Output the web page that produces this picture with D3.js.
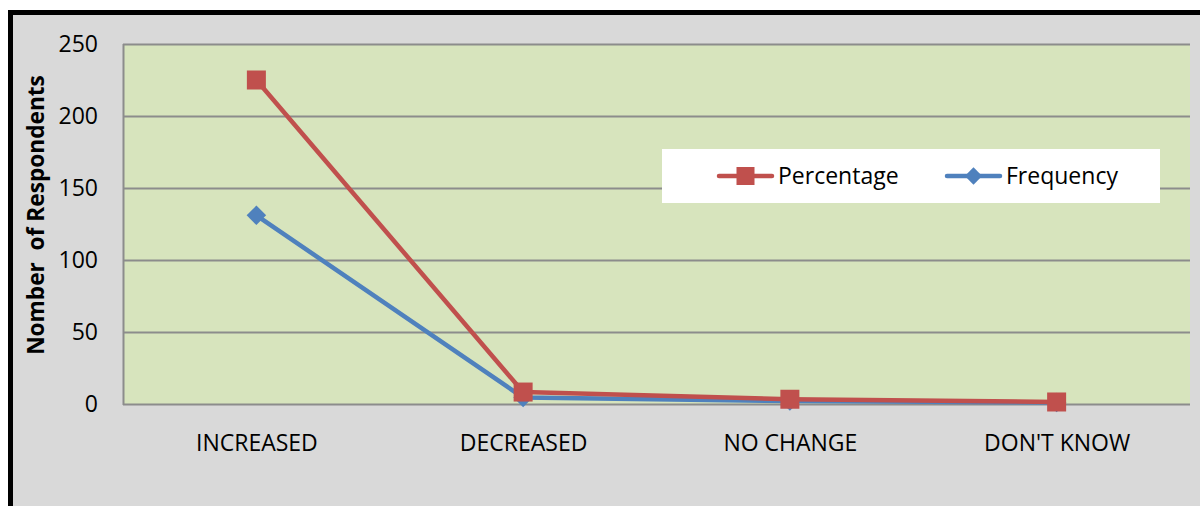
<!DOCTYPE html>
<html>
<head>
<meta charset="utf-8">
<script src="https://cdn.jsdelivr.net/npm/d3@7"></script>
<style>
  html, body { margin: 0; padding: 0; background: #ffffff; }
  svg { display: block; font-family: "Open Sans", Carlito, sans-serif; }
</style>
</head>
<body>
<svg id="chart" width="1200" height="506"></svg>
<script>
// Responses per category
const categories = ["INCREASED", "DECREASED", "NO CHANGE", "DON'T KNOW"];
const percentage = [225, 8.3, 3.3, 1.4];
const frequency = [131, 4.5, 2, 1];
const yTicks = [0, 50, 100, 150, 200, 250];
const seriesNames = ["Percentage", "Frequency"];
const yTitle = "Nomber  of Respondents";

const svg = d3.select("#chart");
const W = 1200, H = 506;
const plot = { left: 123, right: 1190, top: 44, bottom: 404 };
const FONT = "'Open Sans', Carlito, sans-serif";

// outer chart frame
svg.append("rect")
  .attr("x", 10.5).attr("y", 12.5)
  .attr("width", W).attr("height", H)
  .attr("fill", "#d9d9d9")
  .attr("stroke", "#000").attr("stroke-width", 5);

const x = d3.scalePoint()
  .domain(categories)
  .range([plot.left, plot.right])
  .padding(0.5);

const y = d3.scaleLinear()
  .domain([0, 250])
  .range([plot.bottom, plot.top]);

// plot area
svg.append("rect")
  .attr("x", plot.left).attr("y", plot.top)
  .attr("width", plot.right - plot.left)
  .attr("height", plot.bottom - plot.top)
  .attr("fill", "#d7e4bd");

// gridlines
svg.append("g")
  .selectAll("line")
  .data(yTicks)
  .join("line")
  .attr("x1", plot.left).attr("x2", plot.right)
  .attr("y1", d => y(d) + 0.5).attr("y2", d => y(d) + 0.5)
  .attr("stroke", "#8c8c8c").attr("stroke-width", 2);

// left border of plot area
svg.append("line")
  .attr("x1", plot.left + 0.5).attr("x2", plot.left + 0.5)
  .attr("y1", plot.top).attr("y2", plot.bottom + 1)
  .attr("stroke", "#8c8c8c").attr("stroke-width", 2);

// y axis
const yAxis = svg.append("g")
  .attr("transform", `translate(${plot.left - 25},0)`)
  .call(d3.axisLeft(y).tickValues(yTicks).tickSize(0).tickPadding(0));
yAxis.select(".domain").remove();
yAxis.selectAll("text")
  .attr("font-size", 23)
  .attr("font-family", FONT)
  .attr("fill", "#000");

// x axis
const xAxis = svg.append("g")
  .attr("transform", `translate(0,${plot.bottom + 31})`)
  .call(d3.axisBottom(x).tickSize(0).tickPadding(0));
xAxis.select(".domain").remove();
xAxis.selectAll("text")
  .attr("font-size", 23)
  .attr("dy", "0.71em")
  .attr("font-family", FONT)
  .attr("fill", "#000");

// y axis title, sized to span the value range
const title = svg.append("text")
  .attr("transform", `translate(44,215) rotate(-90)`)
  .attr("text-anchor", "middle")
  .attr("font-size", 20)
  .attr("font-weight", "bold")
  .attr("font-family", FONT)
  .style("white-space", "pre")
  .text(yTitle);
const tLen = title.node().getComputedTextLength();
if (tLen > 0) title.attr("font-size", 20 * 280 / tLen);

const line = d3.line()
  .x((d, i) => x(categories[i]))
  .y(d => y(d));

const red = "#c0504d", blue = "#4f81bd";

// Frequency series
svg.append("path")
  .datum(frequency)
  .attr("d", line)
  .attr("fill", "none")
  .attr("stroke", blue).attr("stroke-width", 4.5)
  .attr("stroke-linejoin", "round");
svg.append("g")
  .selectAll("path")
  .data(frequency)
  .join("path")
  .attr("transform", (d, i) => `translate(${x(categories[i])},${y(d)}) rotate(45)`)
  .attr("d", d3.symbol().type(d3.symbolSquare).size(190))
  .attr("fill", blue);

// Percentage series
svg.append("path")
  .datum(percentage)
  .attr("d", line)
  .attr("fill", "none")
  .attr("stroke", red).attr("stroke-width", 4.5)
  .attr("stroke-linejoin", "round");
svg.append("g")
  .selectAll("rect")
  .data(percentage)
  .join("rect")
  .attr("x", (d, i) => x(categories[i]) - 9.5)
  .attr("y", d => y(d) - 9.5)
  .attr("width", 19).attr("height", 19)
  .attr("fill", red);

// legend
const legend = svg.append("g");
legend.append("rect")
  .attr("x", 662).attr("y", 149)
  .attr("width", 498).attr("height", 54)
  .attr("fill", "#fff");

const legendItems = [
  { name: seriesNames[0], color: red, x0: 719, shape: "square" },
  { name: seriesNames[1], color: blue, x0: 947, shape: "diamond" }
];
const ly = 176;
legendItems.forEach(it => {
  legend.append("line")
    .attr("x1", it.x0).attr("x2", it.x0 + 53)
    .attr("y1", ly).attr("y2", ly)
    .attr("stroke", it.color).attr("stroke-width", 4.5)
    .attr("stroke-linecap", "round");
  const cx = it.x0 + 26.5;
  if (it.shape === "square") {
    legend.append("rect")
      .attr("x", cx - 9).attr("y", ly - 9)
      .attr("width", 18).attr("height", 18)
      .attr("fill", it.color);
  } else {
    legend.append("path")
      .attr("transform", `translate(${cx},${ly}) rotate(45)`)
      .attr("d", d3.symbol().type(d3.symbolSquare).size(150))
      .attr("fill", it.color);
  }
  legend.append("text")
    .attr("x", it.x0 + 59).attr("y", ly)
    .attr("dy", "0.35em")
    .attr("font-size", 23)
    .attr("font-family", FONT)
    .attr("fill", "#000")
    .text(it.name);
});
</script>
</body>
</html>
